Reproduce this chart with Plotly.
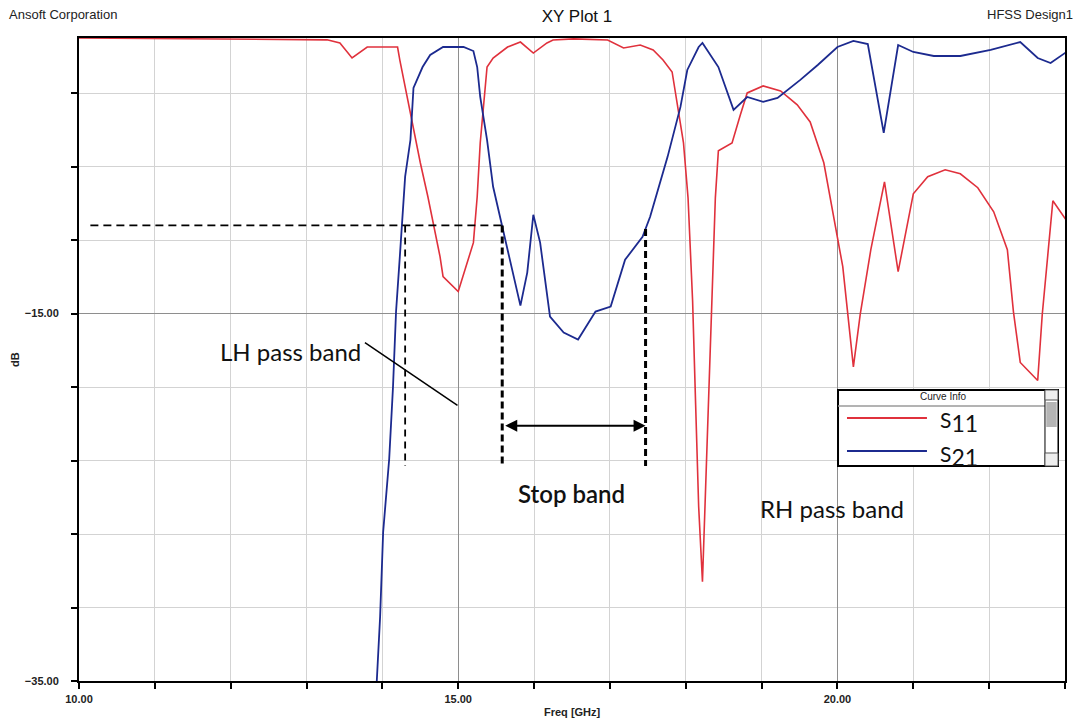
import plotly.graph_objects as go

# S21 transmission (GHz, dB)
s21_freq = [13.92, 13.97, 14.01, 14.09, 14.14, 14.18, 14.23, 14.30, 14.37, 14.41,
            14.53, 14.63, 14.80, 15.07, 15.20, 15.25, 15.29, 15.38, 15.46, 15.58,
            15.69, 15.82, 15.91, 15.99, 16.08, 16.21, 16.39, 16.58, 16.81, 17.01,
            17.20, 17.43, 17.53, 17.76, 17.93, 18.02, 18.17, 18.22, 18.43, 18.63,
            18.81, 19.02, 19.21, 19.51, 19.74, 20.00, 20.21, 20.40, 20.61, 20.80,
            21.00, 21.27, 21.62, 22.02, 22.41, 22.64, 22.81, 23.02]
s21_db = [-35.5, -31.5, -26.9, -22.9, -19.0, -14.9, -11.9, -7.55, -5.54, -2.72,
          -1.58, -0.92, -0.49, -0.49, -0.71, -1.58, -3.21, -5.54, -8.10, -10.27,
          -12.23, -14.57, -12.77, -9.62, -11.14, -15.16, -16.03, -16.41, -14.89, -14.62,
          -12.07, -10.82, -9.73, -6.47, -3.75, -1.74, -0.49, -0.27, -1.58, -3.91,
          -3.21, -3.48, -3.26, -2.28, -1.47, -0.49, -0.16, -0.33, -5.16, -0.38,
          -0.76, -0.98, -0.98, -0.65, -0.22, -1.09, -1.36, -0.76]

# S11 reflection (GHz, dB)
s11_freq = [10.00, 13.27, 13.44, 13.60, 13.80, 14.20, 14.23, 14.30, 14.39, 14.50,
            14.60, 14.76, 14.80, 15.00, 15.20, 15.25, 15.29, 15.38, 15.46, 15.65,
            15.82, 15.99, 16.17, 16.25, 16.52, 16.97, 17.18, 17.40, 17.57, 17.70,
            17.82, 17.89, 17.97, 18.03, 18.09, 18.13, 18.17, 18.22, 18.26, 18.30,
            18.35, 18.39, 18.43, 18.61, 18.72, 18.81, 19.02, 19.25, 19.47, 19.64,
            19.82, 19.95, 20.07, 20.21, 20.30, 20.44, 20.62, 20.80, 21.00, 21.19,
            21.42, 21.62, 21.85, 22.06, 22.24, 22.32, 22.41, 22.64, 22.70, 22.84,
            23.03]
s11_db = [0.0, -0.1, -0.27, -1.09, -0.49, -0.49, -1.2, -2.66, -4.62, -6.79,
          -8.64, -11.9, -12.99, -13.8, -11.14, -8.64, -5.71, -1.58, -1.09, -0.49,
          -0.22, -0.82, -0.27, -0.11, -0.05, -0.11, -0.54, -0.38, -0.65, -1.20,
          -1.85, -3.75, -5.71, -8.70, -14.3, -19.95, -25.5, -29.6, -24.6, -19.0,
          -13.0, -8.70, -6.14, -5.71, -4.18, -2.99, -2.61, -2.88, -3.64, -4.57,
          -6.79, -9.62, -12.45, -17.9, -15.05, -11.52, -7.83, -12.72, -8.48, -7.55,
          -7.17, -7.39, -8.15, -9.46, -11.52, -14.89, -17.66, -18.64, -15.05, -8.86,
          -10.0]

RED = "#e0313c"
BLUE = "#1c2a8f"
TICK_FONT = dict(family="Liberation Sans", size=11, color="#222222", weight="bold")
NOTE_FONT = dict(family="Lato", size=24, color="#111111")

fig = go.Figure()
fig.add_trace(go.Scatter(x=s11_freq, y=s11_db, mode="lines", name="S11",
                         line=dict(color=RED, width=1.6)))
fig.add_trace(go.Scatter(x=s21_freq, y=s21_db, mode="lines", name="S21",
                         line=dict(color=BLUE, width=1.8)))

axis_common = dict(
    showline=True, mirror=True, linecolor="black", linewidth=2,
    ticks="outside", ticklen=6, tickwidth=2, tickcolor="black",
    showgrid=True, gridcolor="#8e8e8e", gridwidth=1,
    zeroline=False, tickfont=TICK_FONT, tickformat=".2f",
)

fig.update_xaxes(range=[10, 23], tick0=10, dtick=5, ticklabelstandoff=1,
                 minor=dict(tick0=10, dtick=1, showgrid=True, gridcolor="#d3d3d3",
                            ticks="outside", ticklen=6, tickwidth=2, tickcolor="black"),
                 **axis_common)
fig.update_yaxes(range=[-35, 0], tick0=-35, dtick=20, ticklabelstandoff=10,
                 minor=dict(tick0=-35, dtick=4, showgrid=True, gridcolor="#d3d3d3",
                            ticks="outside", ticklen=6, tickwidth=2, tickcolor="black"),
                 **axis_common)

shapes = []
# band-edge guides
shapes.append(dict(type="line", xref="x", yref="y", x0=10.15, x1=15.59, y0=-10.2, y1=-10.2,
                   line=dict(color="black", width=1.6, dash="8px,5px")))
shapes.append(dict(type="line", xref="x", yref="y", x0=14.30, x1=14.30, y0=-10.2, y1=-23.3,
                   line=dict(color="black", width=1.8, dash="7px,5px")))
shapes.append(dict(type="line", xref="x", yref="y", x0=15.58, x1=15.58, y0=-10.2, y1=-23.3,
                   line=dict(color="black", width=3, dash="7px,4px")))
shapes.append(dict(type="line", xref="x", yref="y", x0=17.47, x1=17.47, y0=-10.4, y1=-23.3,
                   line=dict(color="black", width=3, dash="7px,4px")))
# leader line for the LH label
shapes.append(dict(type="line", xref="x", yref="y", x0=13.77, x1=14.99, y0=-16.58, y1=-20.0,
                   line=dict(color="black", width=1.5)))

# legend panel
lx0, lx1, ly0, ly1 = 0.7698, 0.9929, 0.3344, 0.4526
shapes.append(dict(type="rect", xref="paper", yref="paper", x0=lx0, x1=lx1, y0=ly0, y1=ly1,
                   fillcolor="white", line=dict(color="black", width=2)))
shapes.append(dict(type="line", xref="paper", yref="paper", x0=lx0, x1=0.9797, y0=0.4277, y1=0.4277,
                   line=dict(color="#9a9a9a", width=1.5)))
shapes.append(dict(type="rect", xref="paper", yref="paper", x0=0.9797, x1=lx1, y0=ly0, y1=ly1,
                   fillcolor="white", line=dict(color="black", width=1)))
shapes.append(dict(type="rect", xref="paper", yref="paper", x0=0.9797, x1=lx1, y0=0.4370, y1=ly1,
                   fillcolor="#eeeeee", line=dict(color="#555555", width=1)))
shapes.append(dict(type="rect", xref="paper", yref="paper", x0=0.9810, x1=0.9916, y0=0.3950, y1=0.4339,
                   fillcolor="#b5b5b5", line=dict(width=0)))
shapes.append(dict(type="rect", xref="paper", yref="paper", x0=0.9797, x1=lx1, y0=ly0, y1=0.3546,
                   fillcolor="#eeeeee", line=dict(color="#555555", width=1)))
shapes.append(dict(type="line", xref="paper", yref="paper", x0=0.7789, x1=0.8600, y0=0.4090, y1=0.4090,
                   line=dict(color=RED, width=1.8)))
shapes.append(dict(type="line", xref="paper", yref="paper", x0=0.7789, x1=0.8600, y0=0.3577, y1=0.3577,
                   line=dict(color=BLUE, width=1.8)))

SMALL = dict(family="Liberation Sans", size=13, color="#222222")
annotations = [
    dict(text="Ansoft Corporation", xref="paper", yref="paper", x=-0.073, y=1.0373,
         xanchor="left", yanchor="middle", showarrow=False, font=SMALL),
    dict(text="HFSS Design1", xref="paper", yref="paper", x=1.0101, y=1.0373,
         xanchor="right", yanchor="middle", showarrow=False, font=SMALL),
    dict(text="Freq [GHz]", xref="paper", yref="paper", x=0.5, y=-0.0482,
         xanchor="center", yanchor="middle", showarrow=False,
         font=dict(family="Liberation Sans", size=11, color="#222222", weight="bold")),
    dict(text="dB", xref="paper", yref="paper", x=-0.0649, y=0.4992, textangle=-90,
         xanchor="center", yanchor="middle", showarrow=False, font=TICK_FONT),
    dict(text="LH pass band", xref="paper", yref="paper", x=(290 - 79) / 986, y=(681 - 351) / 643,
         xanchor="center", yanchor="middle", showarrow=False, font=NOTE_FONT),
    dict(text="Stop band", xref="paper", yref="paper", x=(571 - 79) / 986, y=(681 - 493) / 643,
         xanchor="center", yanchor="middle", showarrow=False,
         font=dict(family="Lato", size=24, color="#111111", weight=600)),
    dict(text="RH pass band", xref="paper", yref="paper", x=(832 - 79) / 986, y=(681 - 508) / 643,
         xanchor="center", yanchor="middle", showarrow=False, font=NOTE_FONT),
    # stop band width arrow
    dict(x=17.47, y=-21.1, ax=15.58, ay=-21.1, xref="x", yref="y", axref="x", ayref="y",
         text=" ", showarrow=True, arrowhead=2, startarrowhead=2, arrowside="end+start",
         arrowsize=1.2, arrowwidth=2, arrowcolor="black"),
    dict(text="Curve Info", xref="paper", yref="paper", x=0.8763, y=0.4417,
         xanchor="center", yanchor="middle", showarrow=False,
         font=dict(family="Liberation Sans", size=10, color="#222222")),
    dict(text="S<sub><span style='font-size:23px'>11</span></sub>", xref="paper", yref="paper",
         x=0.8712, y=0.4030, xanchor="left", yanchor="middle", showarrow=False,
         font=dict(family="Lato", size=21, color="#111111")),
    dict(text="S<sub><span style='font-size:23px'>21</span></sub>", xref="paper", yref="paper",
         x=0.8712, y=0.3500, xanchor="left", yanchor="middle", showarrow=False,
         font=dict(family="Lato", size=21, color="#111111")),
]

fig.update_layout(
    width=1087, height=718,
    margin=dict(l=79, r=22, t=38, b=37),
    paper_bgcolor="white", plot_bgcolor="white",
    showlegend=False,
    title=dict(text="XY Plot 1", x=(577 - 79) / 986, xref="paper", xanchor="center",
               y=1 - 16 / 718, yanchor="middle",
               font=dict(family="Liberation Sans", size=17, color="#111111")),
    shapes=shapes,
    annotations=annotations,
)

fig.write_html("out.html")
